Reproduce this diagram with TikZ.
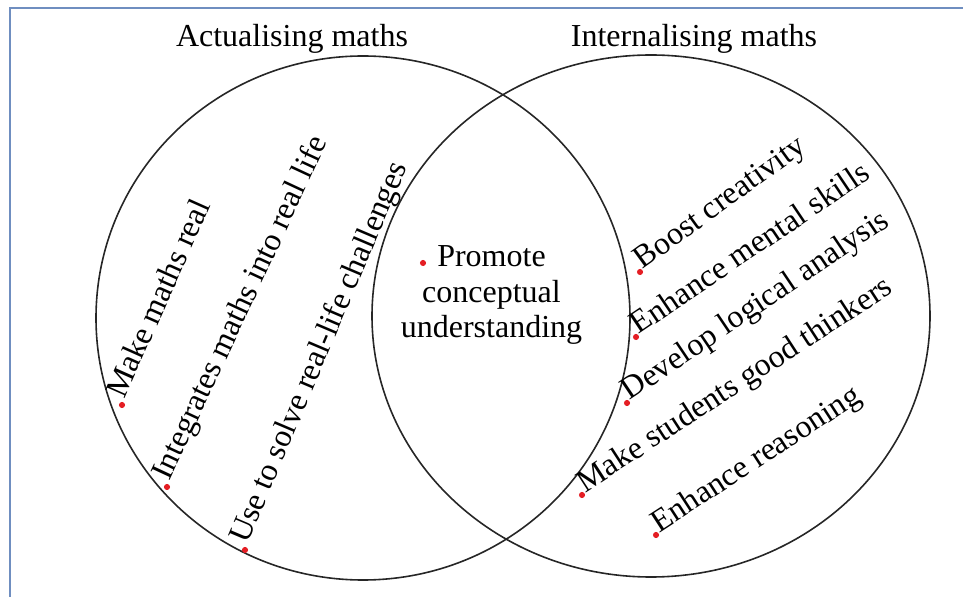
\documentclass[tikz,border=0pt]{standalone}
\usepackage{fontspec}
\setmainfont{Liberation Serif}
\definecolor{framecol}{RGB}{111,142,192}
\definecolor{dotred}{RGB}{228,30,36}

\begin{document}
\begin{tikzpicture}[
  x=0.75pt, y=0.75pt,
  every node/.style={font=\fontsize{24}{26.3}\selectfont},
  setcirc/.style={draw=black!85, line width=1.2pt},
  frame/.style={draw=framecol, line width=2.2pt},
  dot/.style={circle, fill=dotred, inner sep=0pt, minimum size=4.6pt},
  settitle/.style={anchor=base, inner sep=0pt},
  litem/.style={anchor=base west, inner xsep=4pt, inner ysep=0pt},
  ritem/.style={anchor=base west, inner xsep=2.5pt, inner ysep=0pt}
]
\useasboundingbox (0,0) rectangle (963,596);
\draw[frame] (10,-5) -- (10,588) -- (970,588);

% the two sets
\draw[setcirc] (363,278) ellipse [x radius=267, y radius=262];
\draw[setcirc] (651,280) ellipse [x radius=279, y radius=261];

\node[settitle] (acttitle) at (292,549) {Actualising maths};
\node[settitle] (inttitle) at (694,549) {Internalising maths};

% overlap
\node[dot] (cdot) at (423,333) {};
\node[align=center, inner sep=0pt] (concept) at (491.5,301) {Promote\\conceptual\\understanding};

% actualising
\node[dot] (a1) at (122,191) {};
\node[litem, rotate=66] (at1) at (a1) {Make maths real};
\node[dot] (a2) at (167,109) {};
\node[litem, rotate=65] (at2) at (a2) {Integrates maths into real life};
\node[dot] (a3) at (245,46) {};
\node[litem, rotate=67] (at3) at (a3) {Use to solve real-life challenges};

% internalising
\node[dot] (i1) at (640,324) {};
\node[ritem, rotate=36] (it1) at (i1) {Boost creativity};
\node[dot] (i2) at (636,259) {};
\node[ritem, rotate=34] (it2) at (i2) {Enhance mental skills};
\node[dot] (i3) at (627,193) {};
\node[ritem, rotate=34] (it3) at (i3) {Develop logical analysis};
\node[dot] (i4) at (582,101) {};
\node[ritem, rotate=33] (it4) at (i4) {Make students good thinkers};
\node[dot] (i5) at (656,61) {};
\node[ritem, rotate=33] (it5) at (i5) {Enhance reasoning};
\end{tikzpicture}
\end{document}
